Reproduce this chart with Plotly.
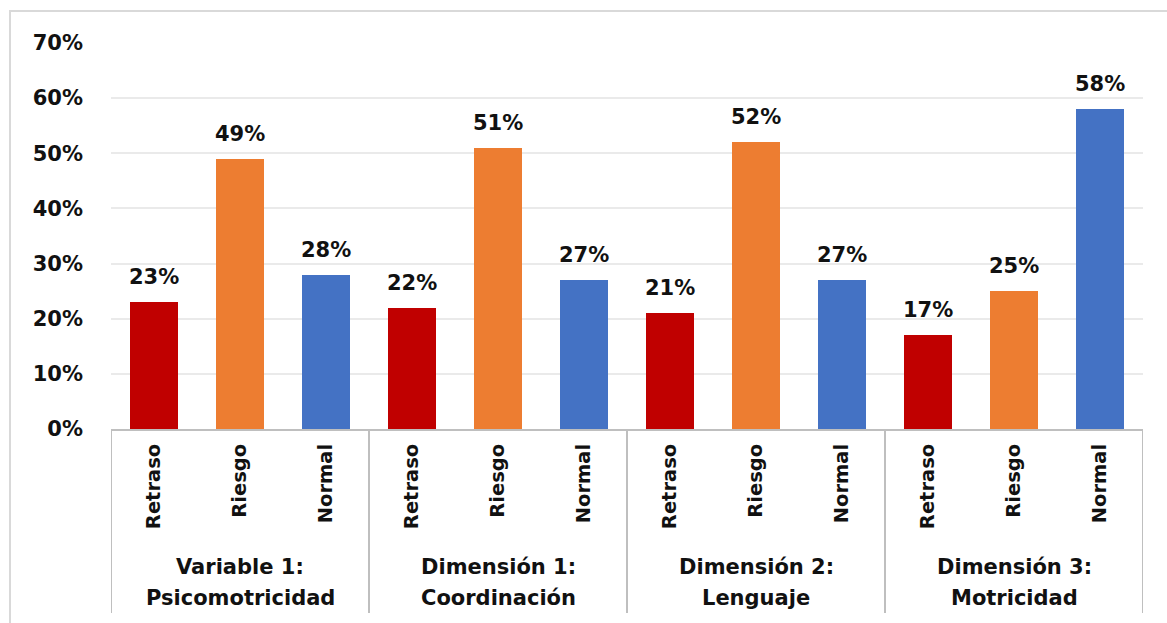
import plotly.graph_objects as go

group_line1 = ["Variable 1:", "Dimensión 1:", "Dimensión 2:", "Dimensión 3:"]
group_line2 = ["Psicomotricidad", "Coordinación", "Lenguaje", "Motricidad"]
categories = ["Retraso", "Riesgo", "Normal"]
retraso = [0.23, 0.22, 0.21, 0.17]
riesgo = [0.49, 0.51, 0.52, 0.25]
normal = [0.28, 0.27, 0.27, 0.58]
colors = {"Retraso": "#C00000", "Riesgo": "#ED7D31", "Normal": "#4472C4"}
yticks = [0, 0.1, 0.2, 0.3, 0.4, 0.5, 0.6, 0.7]

series = {"Retraso": retraso, "Riesgo": riesgo, "Normal": normal}
ncat = len(categories)
ngroups = len(group_line1)
FONT = "DejaVu Sans"
W, H = 1167, 623
ML, MR, MT, MB = 111, 24, 43, 194
PW, PH = W - ML - MR, H - MT - MB
TXT = "#111111"

def py(px_y):
    return (H - MB - px_y) / PH

def px(px_x):
    return (px_x - ML) / PW

fig = go.Figure()
annotations = []
for ci, cat in enumerate(categories):
    xs = [g * ncat + ci for g in range(ngroups)]
    ys = series[cat]
    fig.add_trace(go.Bar(x=xs, y=ys, marker=dict(color=colors[cat], line=dict(width=0)),
                         width=0.56, showlegend=False, hoverinfo="y"))
    for x, y in zip(xs, ys):
        annotations.append(dict(x=x, y=y, xref="x", yref="y", text=f"{round(y*100)}%",
                                showarrow=False, yanchor="middle", yshift=25,
                                font=dict(family=FONT, size=21, color=TXT, weight="bold")))

tickvals = list(range(ngroups * ncat))
ticktext = categories * ngroups

shapes = []
for g in range(ngroups + 1):
    xv = g * ncat - 0.5
    shapes.append(dict(type="line", xref="x", yref="paper", x0=xv, x1=xv,
                       y0=0, y1=py(613), line=dict(color="#BFBFBF", width=2)))
for g in range(ngroups):
    xc = g * ncat + (ncat - 1) / 2
    for text, ypx in ((group_line1[g], 567), (group_line2[g], 598)):
        annotations.append(dict(x=xc, y=py(ypx), xref="x", yref="paper",
                                text=text, showarrow=False, yanchor="middle",
                                font=dict(family=FONT, size=21, color=TXT, weight="bold")))
shapes.append(dict(type="rect", xref="paper", yref="paper", x0=px(10), x1=px(1200),
                   y0=py(700), y1=py(11), line=dict(color="#D9D9D9", width=2),
                   fillcolor="rgba(0,0,0,0)", layer="below"))

fig.update_layout(
    width=W, height=H, margin=dict(l=ML, r=MR, t=MT, b=MB),
    plot_bgcolor="white", paper_bgcolor="white", bargap=0,
    annotations=annotations, shapes=shapes,
    font=dict(family=FONT, size=19, color=TXT),
    xaxis=dict(range=[-0.5, len(tickvals) - 0.5], tickmode="array", tickvals=tickvals,
               ticktext=ticktext, tickangle=-90, ticks="", showgrid=False,
               showline=True, linecolor="#BFBFBF", linewidth=2, zeroline=False,
               ticklabelstandoff=5,
               tickfont=dict(family=FONT, size=19.5, color=TXT, weight="bold")),
    yaxis=dict(range=[0, 0.7], tickvals=yticks, tickformat=".0%", ticks="",
               showgrid=True, gridcolor="#EAEAEA", gridwidth=2, zeroline=False,
               showline=False, ticklabelstandoff=27,
               tickfont=dict(family=FONT, size=21, color=TXT, weight="bold")),
)
fig.write_html("out.html")
